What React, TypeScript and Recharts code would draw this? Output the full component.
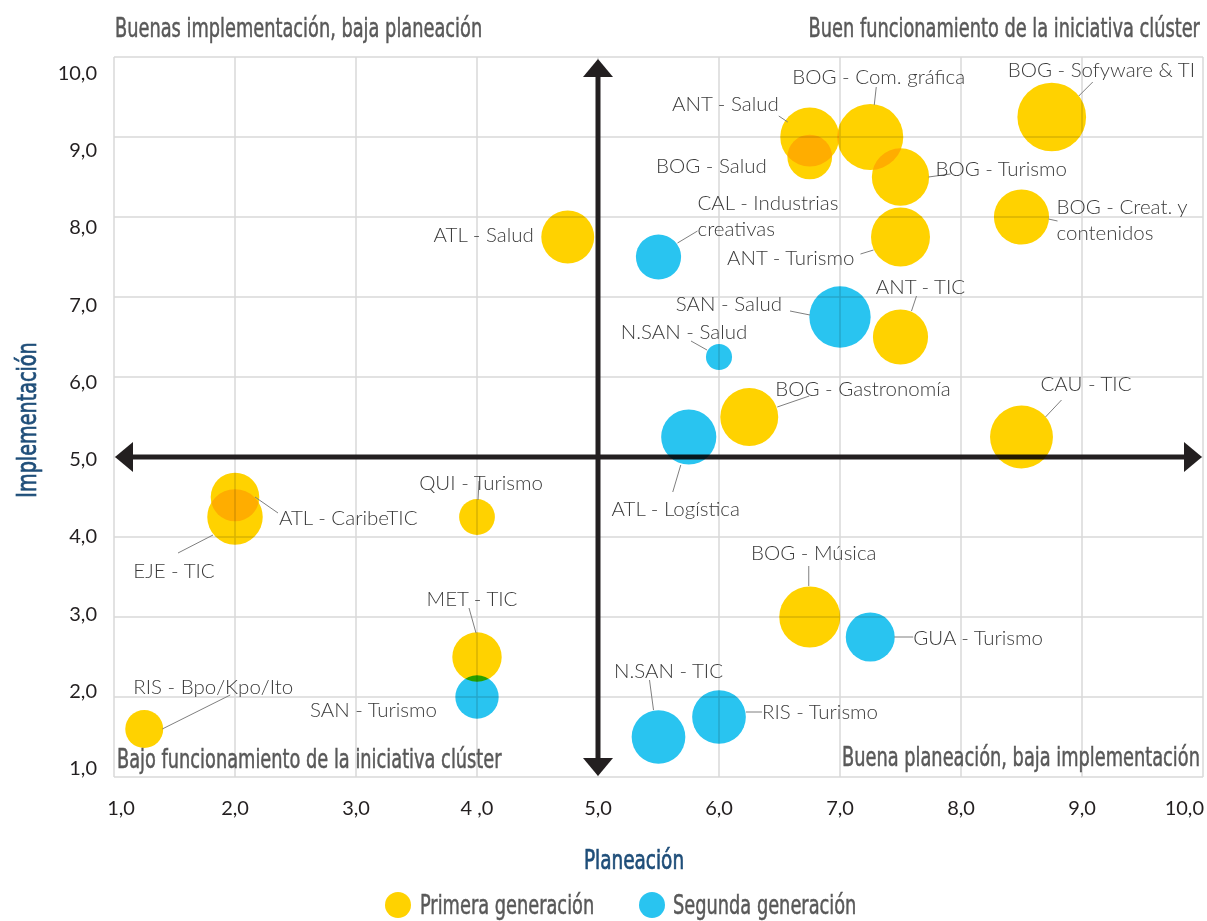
import { ScatterChart, Scatter, XAxis, YAxis, ZAxis, CartesianGrid, ReferenceLine } from 'recharts';

// Primera generación
const primeraNombres = [
  'BOG - Sofyware & TI', 'BOG - Com. gráfica', 'ANT - Salud', 'BOG - Salud', 'BOG - Turismo',
  'BOG - Creat. y contenidos', 'ANT - Turismo', 'ATL - Salud', 'ANT - TIC', 'BOG - Gastronomía',
  'CAU - TIC', 'ATL - CaribeTIC', 'EJE - TIC', 'QUI - Turismo', 'MET - TIC', 'BOG - Música',
  'RIS - Bpo/Kpo/Ito',
]
const primeraPlaneacion = [8.75, 7.25, 6.75, 6.75, 7.5, 8.5, 7.5, 4.75, 7.5, 6.25, 8.5, 2.0, 2.0, 4.0, 4.0, 6.75, 1.25]
const primeraImplementacion = [9.25, 9.0, 9.0, 8.75, 8.5, 8.0, 7.75, 7.75, 6.5, 5.5, 5.25, 4.5, 4.25, 4.25, 2.5, 3.0, 1.6]
const primeraTamano = [118, 109, 87, 50, 82, 76, 87, 70, 76, 84, 99, 59, 77, 32, 61, 93, 36]

// Segunda generación
const segundaNombres = [
  'CAL - Industrias creativas', 'SAN - Salud', 'N.SAN - Salud', 'ATL - Logística',
  'GUA - Turismo', 'RIS - Turismo', 'N.SAN - TIC', 'SAN - Turismo',
]
const segundaPlaneacion = [5.5, 7.0, 6.0, 5.75, 7.25, 6.0, 5.5, 4.0]
const segundaImplementacion = [7.5, 6.75, 6.25, 5.25, 2.75, 1.75, 1.5, 2.0]
const segundaTamano = [51, 94, 17, 76, 60, 72, 72, 47]

const axisTicks = [1, 2, 3, 4, 5, 6, 7, 8, 9, 10]
const xTickLabels = ['1,0', '2,0', '3,0', '4 ,0', '5,0', '6,0', '7,0', '8,0', '9,0', '10,0']
const yTickLabels = ['1,0', '2,0', '3,0', '4,0', '5,0', '6,0', '7,0', '8,0', '9,0', '10,0']

const AMARILLO = '#FFD200'
const AZUL = '#29C4F0'
const NARROW = '"Liberation Sans Narrow", "DejaVu Sans Condensed", "DejaVu Sans", sans-serif'
const LIGHT = 'Lato, "Open Sans", sans-serif'
const SQUEEZE = 0.76

// label placement relative to bubble centre (px): text anchor point, leader line
type Placement = { dx: number; dy: number; anchor: 'start' | 'middle' | 'end'; line?: number[]; split?: number }
const placements: Record<string, Placement> = {
  'BOG - Sofyware & TI': { dx: -44, dy: -48, anchor: 'start', line: [41, -35, 27, -21] },
  'BOG - Com. gráfica': { dx: -78, dy: -61, anchor: 'start', line: [6, -50, 4, -32] },
  'ANT - Salud': { dx: -31, dy: -34, anchor: 'end', line: [-31, -21, -22, -15] },
  'BOG - Salud': { dx: -43, dy: 8, anchor: 'end' },
  'BOG - Turismo': { dx: 35, dy: -9, anchor: 'start', line: [28, 0, 50, -3] },
  'BOG - Creat. y contenidos': { dx: 35, dy: -11, anchor: 'start', line: [27, 2, 36, 4], split: 4 },
  'ANT - Turismo': { dx: -46, dy: 20, anchor: 'end', line: [-40, 17, -27, 13] },
  'ATL - Salud': { dx: -34, dy: -3, anchor: 'end' },
  'ANT - TIC': { dx: 20, dy: -51, anchor: 'middle', line: [16, -41, 11, -26] },
  'BOG - Gastronomía': { dx: 26, dy: -29, anchor: 'start', line: [28, -10, 60, -21] },
  'CAU - TIC': { dx: 19, dy: -54, anchor: 'start', line: [24, -20, 40, -37] },
  'ATL - CaribeTIC': { dx: 44, dy: 20, anchor: 'start', line: [20, 0, 43, 16] },
  'EJE - TIC': { dx: -61, dy: 53, anchor: 'middle', line: [-22, 18, -57, 36] },
  'QUI - Turismo': { dx: 4, dy: -35, anchor: 'middle', line: [2, -36, 1, -17] },
  'MET - TIC': { dx: -5, dy: -59, anchor: 'middle', line: [-8, -49, -1, -24] },
  'BOG - Música': { dx: 4, dy: -65, anchor: 'middle', line: [-1, -51, -1, -31] },
  'RIS - Bpo/Kpo/Ito': { dx: -11, dy: -43, anchor: 'start', line: [18, 0, 86, -34] },
  'CAL - Industrias creativas': { dx: 39, dy: -55, anchor: 'start', line: [19, -14, 39, -26], split: 3 },
  'SAN - Salud': { dx: -58, dy: -14, anchor: 'end', line: [-50, -6, -30, -2] },
  'N.SAN - Salud': { dx: -35, dy: -26, anchor: 'middle', line: [-28, -16, -12, -7] },
  'ATL - Logística': { dx: -13, dy: 71, anchor: 'middle', line: [-8, 28, -16, 55] },
  'GUA - Turismo': { dx: 43, dy: 0, anchor: 'start', line: [24, 0, 43, 0] },
  'RIS - Turismo': { dx: 43, dy: -6, anchor: 'start', line: [27, -5, 43, -5] },
  'N.SAN - TIC': { dx: 10, dy: -67, anchor: 'middle', line: [-9, -57, -5, -27] },
  'SAN - Turismo': { dx: -40, dy: 12, anchor: 'end' },
}

const toPoints = (names: string[], xs: number[], ys: number[], zs: number[]) =>
  names.map((name, i) => ({ name, x: xs[i], y: ys[i], z: zs[i] }))

const primera = toPoints(primeraNombres, primeraPlaneacion, primeraImplementacion, primeraTamano)
const segunda = toPoints(segundaNombres, segundaPlaneacion, segundaImplementacion, segundaTamano)

const makeBubble = (color: string) => (props: any) => {
  const r = props.width ? props.width / 2 : Math.sqrt((props.size || 0) / Math.PI)
  return <circle cx={props.cx} cy={props.cy} r={r} fill={color} style={{ mixBlendMode: 'multiply' }} />
}

function BubbleLabel(props: any) {
  const { cx, cy, payload } = props
  const p = placements[payload.name]
  if (!p) return null
  const words = payload.name.split(' ')
  const lines = p.split ? [words.slice(0, p.split).join(' '), words.slice(p.split).join(' ')] : [payload.name]
  return (
    <g>
      {p.line && (
        <line x1={cx + p.line[0]} y1={cy + p.line[1]} x2={cx + p.line[2]} y2={cy + p.line[3]} stroke="#7f7f7f" strokeWidth={1} />
      )}
      {lines.map((t, i) => (
        <text key={i} x={cx + p.dx} y={cy + p.dy + i * 26} textAnchor={p.anchor} dominantBaseline="central"
          fontFamily={LIGHT} fontWeight={300} fontSize={20.5} fill="#3b3b3b">{t}</text>
      ))}
    </g>
  )
}

function Arrow(props: any) {
  const { x1, y1, x2, y2 } = props
  const len = 18
  const half = 15
  const c = '#231F20'
  if (Math.abs(y1 - y2) < 1) {
    const a = Math.min(x1, x2), b = Math.max(x1, x2), y = y1
    return (
      <g>
        <line x1={a + len} y1={y} x2={b - len} y2={y} stroke={c} strokeWidth={5} />
        <polygon points={`${a + 1},${y} ${a + len + 1},${y - half} ${a + len + 1},${y + half}`} fill={c} />
        <polygon points={`${b - 1},${y} ${b - len - 1},${y - half} ${b - len - 1},${y + half}`} fill={c} />
      </g>
    )
  }
  const a = Math.min(y1, y2), b = Math.max(y1, y2), x = x1
  return (
    <g>
      <line x1={x} y1={a + len} x2={x} y2={b - len} stroke={c} strokeWidth={5} />
      <polygon points={`${x},${a + 2} ${x - half},${a + len + 2} ${x + half},${a + len + 2}`} fill={c} />
      <polygon points={`${x},${b - 1} ${x - half},${b - len - 1} ${x + half},${b - len - 1}`} fill={c} />
    </g>
  )
}

const XTick = (props: any) => {
  const i = axisTicks.indexOf(props.payload.value)
  const last = i === axisTicks.length - 1
  const x = i === 0 ? props.x + 7 : last ? props.x + 1 : props.x
  return (
    <text x={x} y={props.y + 22} textAnchor={last ? 'end' : 'middle'} dominantBaseline="central"
      fontFamily={LIGHT} fontSize={20} fill="#231F20">{xTickLabels[i]}</text>
  )
}

const YTick = (props: any) => {
  const v = props.payload.value
  const i = axisTicks.indexOf(v)
  return (
    <text x={props.x - 9} y={props.y - 10 + (v - 1) * 2.75} textAnchor="end" dominantBaseline="central"
      fontFamily={LIGHT} fontSize={20} fill="#231F20">{yTickLabels[i]}</text>
  )
}

function Title({ text, left, right, top }: { text: string; left?: number; right?: number; top: number }) {
  return (
    <div style={{
      position: 'absolute', left, right, top, fontFamily: NARROW, fontSize: 26, color: '#595959',
      lineHeight: '30px', whiteSpace: 'nowrap', transform: `scaleX(${SQUEEZE})`,
      transformOrigin: right !== undefined ? 'right center' : 'left center',
      WebkitTextStroke: '0.5px #595959',
    }}>{text}</div>
  )
}

export default function App() {
  return (
    <div style={{ position: 'absolute', left: 0, top: 0, width: 1207, height: 921, background: '#fff' }}>
      <ScatterChart width={1207} height={921} margin={{ top: 57, right: 4, bottom: 0, left: 0 }}>
        <CartesianGrid stroke="#D9D9D9" strokeWidth={1.5} />
        <XAxis type="number" dataKey="x" domain={[1, 10]} ticks={axisTicks} axisLine={false} tickLine={false}
          height={144} tick={<XTick />} interval={0}
          label={() => (
            <text transform={`translate(634 860) scale(${SQUEEZE} 1)`} textAnchor="middle" dominantBaseline="central"
              fontFamily={NARROW} fontSize={27} fill="#1F4E79" stroke="#1F4E79" strokeWidth={0.7}>Planeación</text>
          )} />
        <YAxis type="number" dataKey="y" domain={[1, 10]} ticks={axisTicks} axisLine={false} tickLine={false}
          width={114} tick={<YTick />} interval={0}
          label={() => (
            <text transform={`translate(27 420) rotate(-90) scale(${SQUEEZE + 0.03} 1)`} textAnchor="middle"
              dominantBaseline="central" fontFamily={NARROW} fontSize={27} fill="#1F4E79" stroke="#1F4E79"
              strokeWidth={0.7}>Implementación</text>
          )} />
        <ZAxis type="number" dataKey="z" domain={[0, 120]} range={[0, 3770]} />
        <ReferenceLine y={5} shape={Arrow} />
        <ReferenceLine x={5} shape={Arrow} />
        <Scatter name="Primera generación" data={primera} shape={makeBubble(AMARILLO)} isAnimationActive={false} />
        <Scatter name="Segunda generación" data={segunda} shape={makeBubble(AZUL)} isAnimationActive={false} />
        <Scatter name="etiquetas" data={[...primera, ...segunda]} shape={BubbleLabel} isAnimationActive={false} legendType="none" />
      </ScatterChart>

      <Title text="Buenas implementación, baja planeación" left={115} top={13} />
      <Title text="Buen funcionamiento de la iniciativa clúster" right={7} top={13} />
      <Title text="Bajo funcionamiento de la iniciativa clúster" left={117} top={744} />
      <Title text="Buena planeación, baja implementación" right={7} top={742} />

      <span style={{ position: 'absolute', left: 385, top: 892, width: 26, height: 26, borderRadius: 13, background: AMARILLO }} />
      <Title text="Primera generación" left={420} top={890} />
      <span style={{ position: 'absolute', left: 639, top: 892, width: 26, height: 26, borderRadius: 13, background: AZUL }} />
      <Title text="Segunda generación" left={673} top={890} />
    </div>
  )
}
